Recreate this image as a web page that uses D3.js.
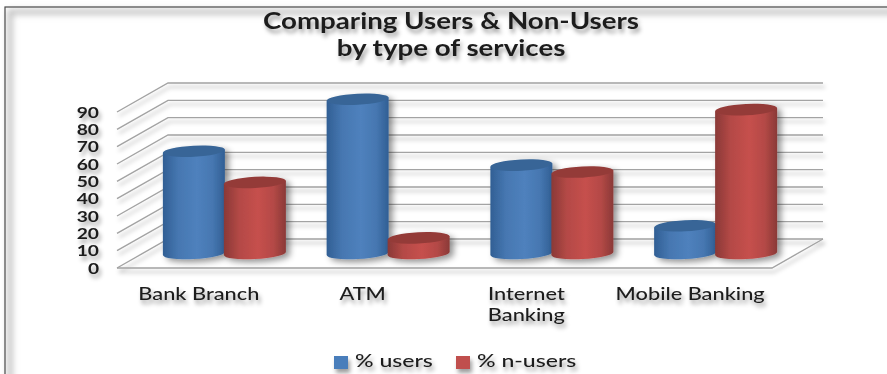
<!DOCTYPE html>
<html>
<head>
<meta charset="utf-8">
<script src="https://cdnjs.cloudflare.com/ajax/libs/d3/7.8.5/d3.min.js"></script>
<style>
  html, body { margin: 0; padding: 0; background: #fff; }
  svg { display: block; }
  text { font-family: Lato, "Open Sans", sans-serif; fill: #1d1d1d; }
</style>
</head>
<body>
<svg id="chart" width="887" height="374"></svg>
<script>
const categories = ["Bank Branch", "ATM", "Internet Banking", "Mobile Banking"];
const categoryLines = [["Bank Branch"], ["ATM"], ["Internet", "Banking"], ["Mobile Banking"]];
const seriesNames = ["% users", "% n-users"];
const users = [59, 89, 51, 16];
const nonUsers = [41, 9, 47, 83];
const yTicks = [0, 10, 20, 30, 40, 50, 60, 70, 80, 90];
const titleLines = ["Comparing Users & Non-Users", "by type of services"];

const svg = d3.select("#chart");
const defs = svg.append("defs");

// Depth of the 3D box, as an offset from the front plane to the back wall
const depthX = 51, depthY = -29;
const front = { left: 117, right: 772, zero: 268, top: 112 };

const x = d3.scaleBand().domain(categories).range([front.left, front.right]);
const inner = d3.scaleBand().domain(seriesNames).range([-61, 61]);
const y = d3.scaleLinear().domain([0, 90]).range([front.zero, front.top]);

// Soft shadows used by lines, text and cylinders; the region is generous
// so that groups with their own translation are not clipped
const addShadow = (id, dx, dy, sd, op) => {
  defs.append("filter").attr("id", id)
    .attr("filterUnits", "userSpaceOnUse")
    .attr("x", -400).attr("y", -100).attr("width", 1700).attr("height", 600)
    .append("feDropShadow")
    .attr("dx", dx).attr("dy", dy).attr("stdDeviation", sd)
    .attr("flood-color", "#000").attr("flood-opacity", op);
};
addShadow("textShadow", 2, 4, 2, 0.38);
addShadow("barShadow", 4, 3, 3.2, 0.42);
addShadow("lineShadow", 2, 4, 2.2, 0.3);

defs.append("filter").attr("id", "frameBlur")
  .attr("filterUnits", "userSpaceOnUse")
  .attr("x", 0).attr("y", 0).attr("width", 887).attr("height", 374)
  .append("feGaussianBlur").attr("stdDeviation", 3);

const palette = [
  { edge: "#315f94", mid: "#4f81bd", top: "#376597", swatch: "#4a7ebb" },
  { edge: "#8a3937", mid: "#c6504d", top: "#943b39", swatch: "#c0504d" }
];
palette.forEach((c, i) => {
  const g = defs.append("linearGradient").attr("id", "body" + i);
  [[0, c.edge], [0.25, d3.interpolateRgb(c.edge, c.mid)(0.7)], [0.55, c.mid], [0.8, d3.interpolateRgb(c.edge, c.mid)(0.7)], [1, c.edge]]
    .forEach(([o, col]) => g.append("stop").attr("offset", o).attr("stop-color", col));
});

// Page frame with its soft inner edge
svg.append("rect").attr("x", 10).attr("y", 12).attr("width", 960).attr("height", 460)
  .attr("fill", "none").attr("stroke", "#bdbdbd").attr("stroke-width", 5)
  .attr("filter", "url(#frameBlur)");
svg.append("rect").attr("x", 5).attr("y", 7).attr("width", 960).attr("height", 460)
  .attr("fill", "none").attr("stroke", "#4a4a4a").attr("stroke-width", 1.2);

// Helper that widens text by a constant factor
function stretch(sel, factor) {
  sel.each(function () {
    const len = this.getComputedTextLength();
    d3.select(this).attr("textLength", len * factor).attr("lengthAdjust", "spacingAndGlyphs");
  });
  return sel;
}

// Title
const title = svg.append("g").attr("filter", "url(#textShadow)");
title.selectAll("text").data(titleLines).join("text")
  .attr("x", 451).attr("y", (d, i) => 29 + i * 27)
  .attr("text-anchor", "middle")
  .attr("font-size", 22.5).attr("font-weight", 700)
  .text(d => d)
  .call(stretch, 1.23);

// Walls and floor
const grid = svg.append("g").attr("filter", "url(#lineShadow)")
  .attr("fill", "none").attr("stroke", "#a3a3a3").attr("stroke-width", 1.4);
const line = d3.line();
grid.selectAll("path.wall").data(yTicks).join("path").attr("class", "wall")
  .attr("d", t => line([
    [front.left, y(t)],
    [front.left + depthX, y(t) + depthY],
    [front.right + depthX, y(t) + depthY]
  ]));
grid.append("path").attr("d", line([
  [front.left, y(0)], [front.right, y(0)], [front.right + depthX, y(0) + depthY]
]));

// Value axis labels
const yAxis = svg.append("g")
  .attr("transform", `translate(${front.left - 6},0)`)
  .attr("filter", "url(#textShadow)")
  .call(d3.axisLeft(y).tickValues(yTicks).tickSize(0).tickPadding(12));
yAxis.select(".domain").remove();
yAxis.selectAll("text").attr("font-size", 16).attr("font-weight", 700)
  .style("font-family", "Lato, sans-serif").call(stretch, 1.2);

// Category labels
const xLabels = svg.append("g").attr("filter", "url(#textShadow)");
categories.forEach((c, i) => {
  xLabels.selectAll(null).data(categoryLines[i]).join("text")
    .attr("x", x(c) + x.bandwidth() / 2)
    .attr("y", (d, j) => 300 + j * 21)
    .attr("text-anchor", "middle")
    .attr("font-size", 17).attr("font-weight", 500)
    .text(d => d)
    .call(stretch, 1.28);
});

// Cylinders stand halfway into the depth of the box
const rx = 31, ry = 5.6, tilt = -3;
const lift = Math.sin(-tilt * Math.PI / 180) * rx;
const baseY = y(0) + depthY / 2;
const barHeight = d3.scaleLinear().domain([0, 90]).range([0, front.zero - front.top]);

const rows = categories.flatMap((c, i) => [
  { c, s: 0, v: users[i] },
  { c, s: 1, v: nonUsers[i] }
]);
const bars = svg.append("g").selectAll("g").data(rows).join("g")
  .attr("filter", "url(#barShadow)");
bars.each(function (d) {
  const cx = x(d.c) + x.bandwidth() / 2 + depthX / 2 + inner(seriesNames[d.s]) + inner.bandwidth() / 2;
  const yTop = baseY - barHeight(d.v);
  const l = cx - rx, r = cx + rx;
  const g = d3.select(this);
  g.append("path")
    .attr("fill", `url(#body${d.s})`)
    .attr("d", `M${l},${yTop + lift} L${l},${baseY + lift} A${rx},${ry} ${tilt} 0 0 ${r},${baseY - lift} L${r},${yTop - lift} Z`);
  g.append("ellipse")
    .attr("cx", cx).attr("cy", yTop).attr("rx", rx).attr("ry", ry)
    .attr("transform", `rotate(${tilt} ${cx} ${yTop})`)
    .attr("fill", palette[d.s].top);
});

// Legend
const legendItems = [{ sx: 334, tx: 355 }, { sx: 456, tx: 477 }];
const legend = svg.append("g").attr("filter", "url(#textShadow)");
seriesNames.forEach((name, i) => {
  legend.append("rect")
    .attr("x", legendItems[i].sx).attr("y", 356).attr("width", 14).attr("height", 13)
    .attr("fill", palette[i].swatch);
  legend.append("text")
    .attr("x", legendItems[i].tx).attr("y", 367)
    .attr("font-size", 18).attr("font-weight", 500)
    .text(name)
    .call(stretch, 1.28);
});
</script>
</body>
</html>
